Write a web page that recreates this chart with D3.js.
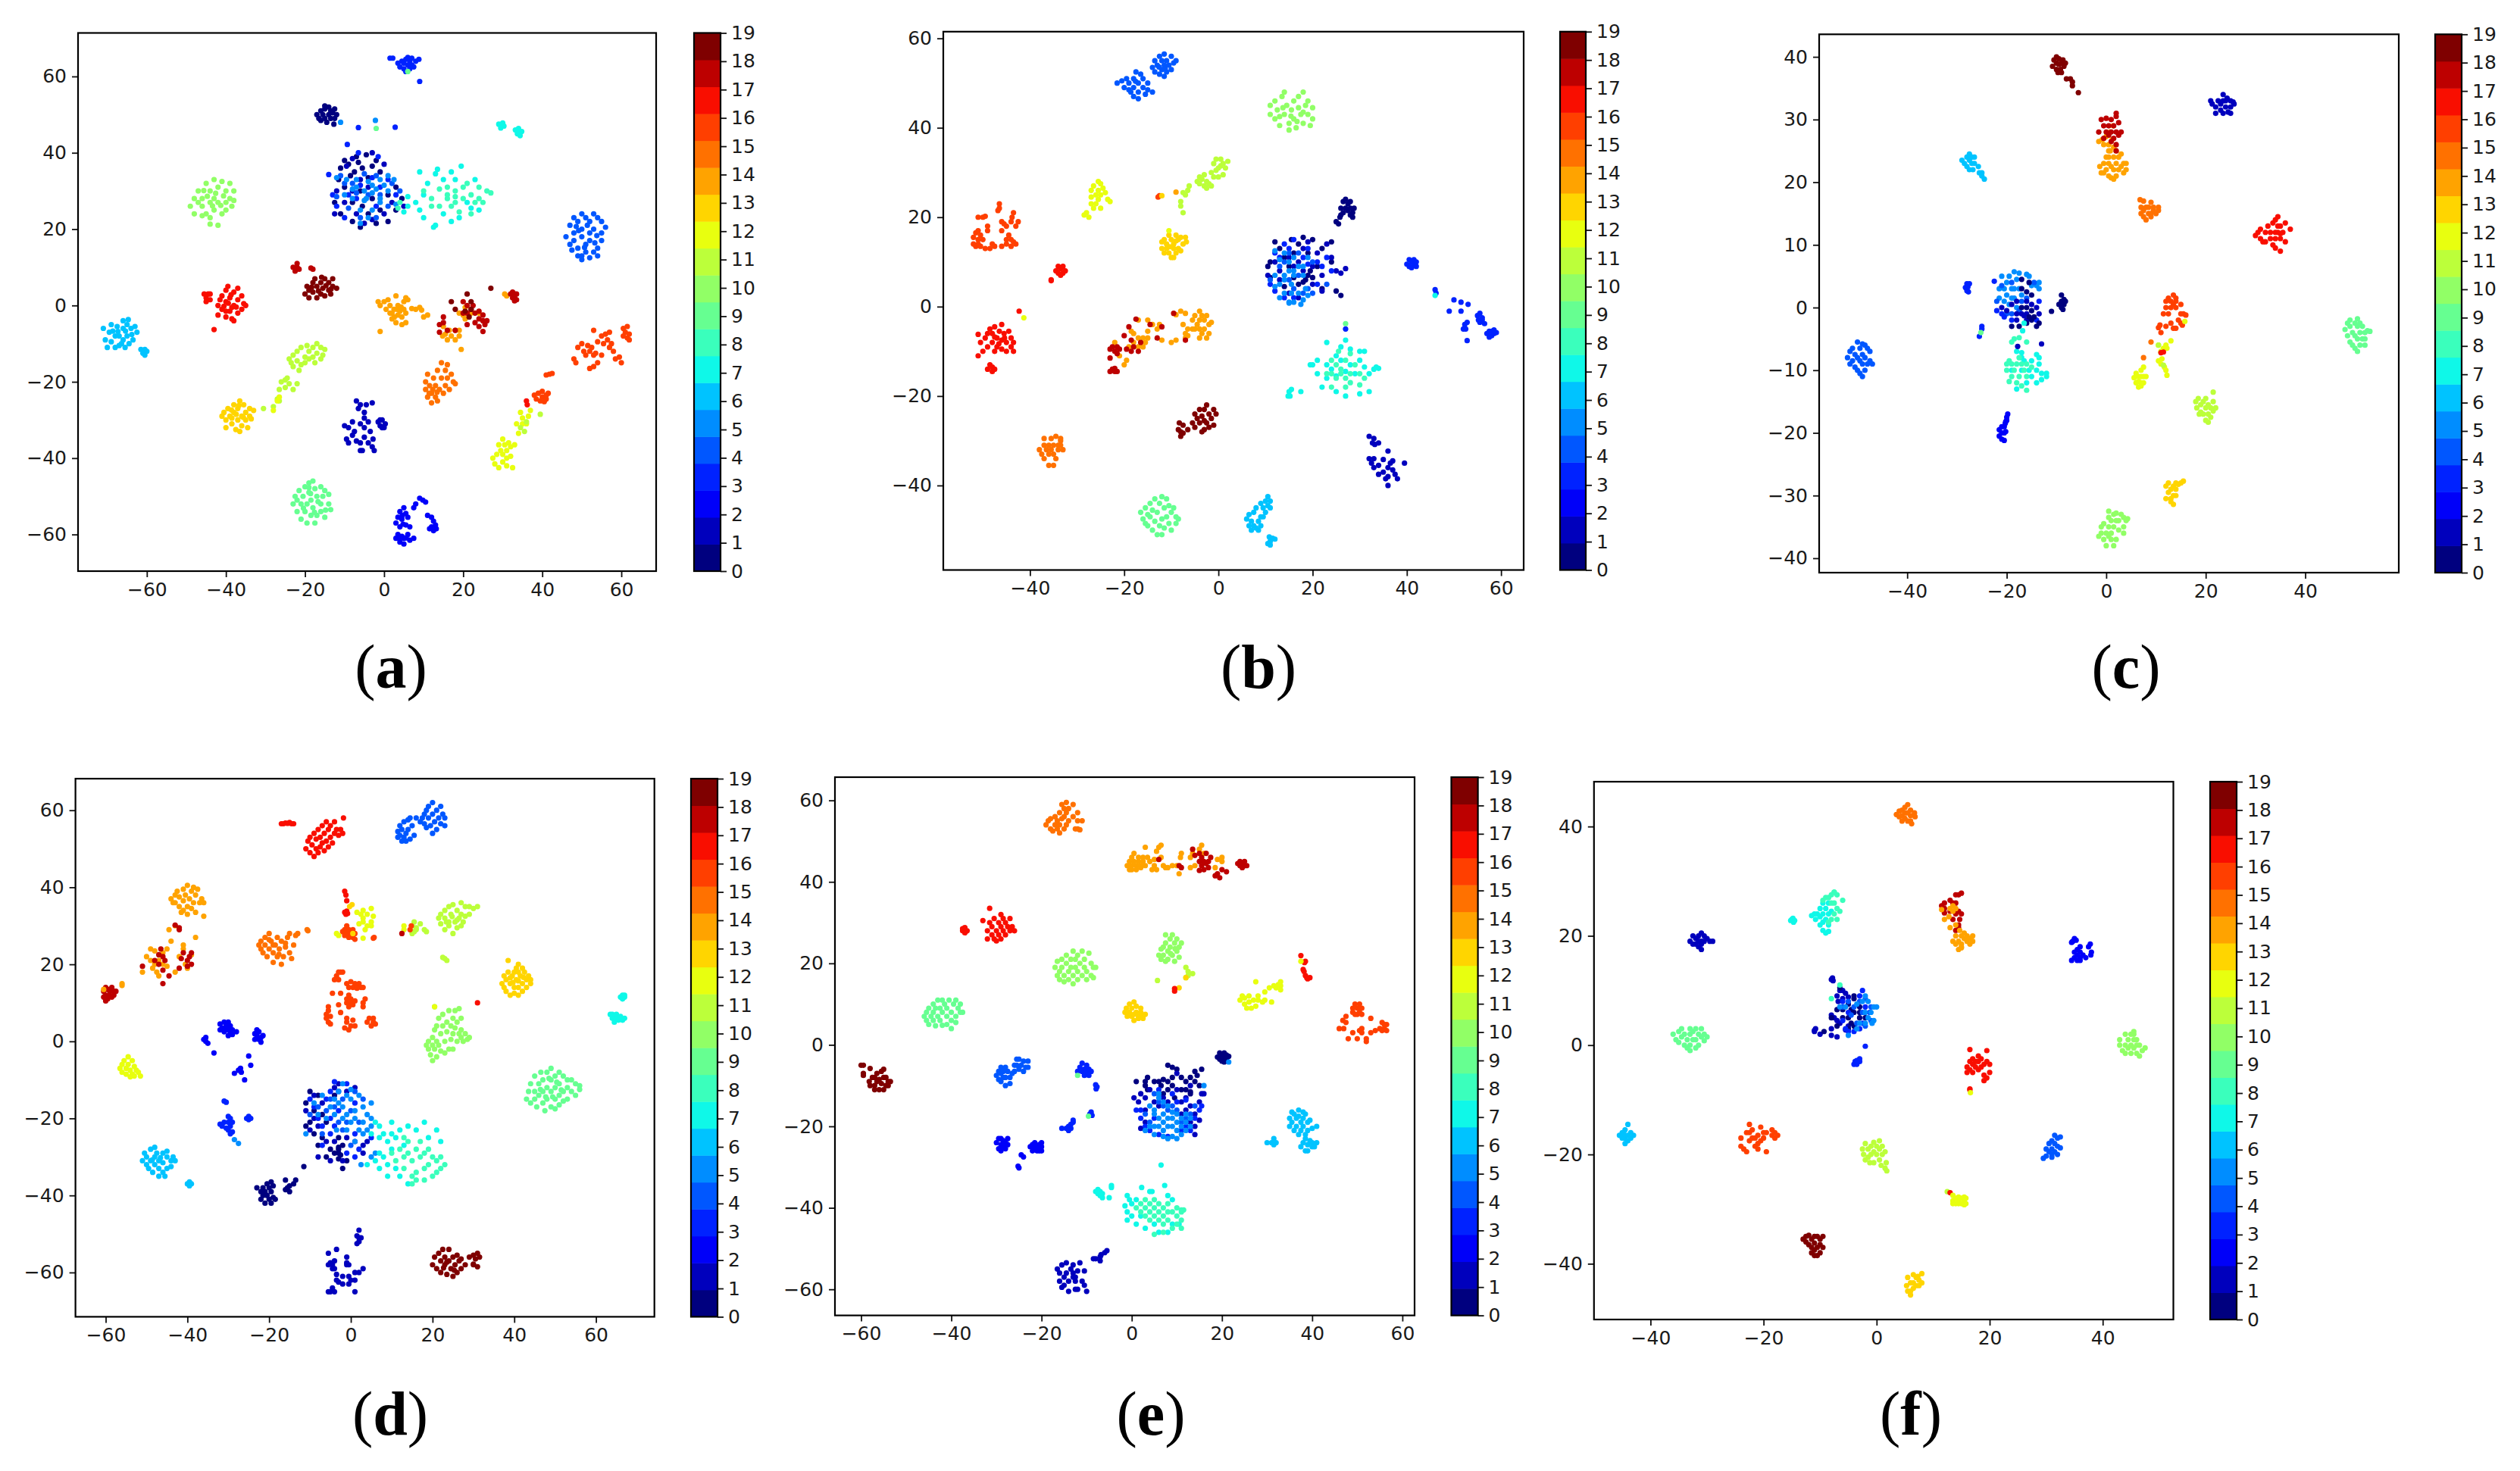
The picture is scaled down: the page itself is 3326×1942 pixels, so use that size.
<!DOCTYPE html>
<html><head><meta charset="utf-8">
<script src="https://cdn.jsdelivr.net/npm/d3@7"></script>
<style>html,body{margin:0;padding:0;background:#fff}svg{display:block}</style>
</head><body><svg id="c" width="3326" height="1942"></svg>
<script>
const jetLevels = ["#00007f","#0000bd","#0000f9","#0022ff","#0057ff","#008dff","#00c3ff","#0ff8e8","#3affbc","#66ff91","#91ff66","#bcff3a","#e8ff0f","#ffd500","#ffa300","#ff7100","#ff3f00","#f90e00","#bd0000","#7f0000"];
const colorbarTicks = d3.range(0,20);
const panelNames = ["a","b","c","d","e","f"];
const ticksX = [[-60,-40,-20,0,20,40,60],[-40,-20,0,20,40,60],[-40,-20,0,20,40],[-60,-40,-20,0,20,40,60],[-60,-40,-20,0,20,40,60],[-40,-20,0,20,40]];
const ticksY = [[-60,-40,-20,0,20,40,60],[-40,-20,0,20,40,60],[-40,-30,-20,-10,0,10,20,30,40],[-60,-40,-20,0,20,40,60],[-60,-40,-20,0,20,40,60],[-40,-20,0,20,40]];
const domainsX = [[-77.4,68.8],[-58.4,64.8],[-57.7,58.8],[-67.4,74.3],[-65.8,62.7],[-50,52.5]];
const domainsY = [[-69.6,71.4],[-58.9,61.5],[-42.3,43.6],[-71.5,68.2],[-66.4,65.7],[-50.2,48.2]];

const scatterA = [
[3,[1.5,64.8,2.2,64.8,3.5,63.5,4,62.5,4.5,64,5,62,5,63.5,5.5,61.3,5.5,64.5,6,63,6,65,6.5,62,6.5,64,7,63,7,64.8,7.5,62.5,8,64,8.8,64.5,9,58.7]],
[9,[6,61.3,-2,46.4]],
[0,[-17,50,-16.5,49,-16,51,-16,48.5,-15.5,50,-15,49,-15,51.5,-14.5,48,-14,50,-14,52,-13.5,49,-13.5,51,-13,50.5,-12.7,47.5,-12.5,49,-12.5,51.5,-12,50,-15,52.3]],
[5,[-11,48,-2.2,48.5]],[3,[-6.5,46.6,2.8,46.7,-9.3,42.2]],
[7,[29,47.5,29.5,46.5,30,47.8,30.3,47,29.5,47.2,33.2,46,33.7,45,34,46.4,34.4,44.5,34.8,45.6,34,45.6]],
[0,[-11,36,-11.5,33,-10,38,-8.5,34,-7,39,-7.5,35,-5.5,36,-4.5,39.5,-4,33.5,-2,38,-1,35,-10,31,-12.5,27,-11,24,-8,22,-6,20.5,-4,24,-2,21.5,1,22,3,25,4.5,28,3,31,1,29,-6,30,-3,28,-8,27,-5.5,26,-1,25,-9,37,-3,36.5,-6.5,37.5]],
[1,[-9.5,36.5,-8,38.5,-6,33,-3,40,0,37,-12,30,-10,27,-7,24,-3,22.5,0,24,2,27,5,26,-8,30,-4,31,-12.5,24,-5,21.5]],
[3,[-14,34.3,-6.5,40,-1.5,39,-13,29,-12,26,-9,29,-6,31.5,-3,33.5,1,33,3,29,-1,31,-10,23,-7,28,-2,26]],
[4,[-11,34,-8,32,-5,34.5,-2,34,2,32,4,30,-12,28.5,-9,25.5,-6,23,-2,23,1,26,-4,29,-1,29,-7,29.5,-10,32]],
[5,[-12,33.5,-9.5,33,-7,31,-5,30,-3,31.5,-1,33,1,34,-10,29,-8,28,-5,27.5,-3,29.5,-1,28,1,30,3,26.5,-6,25,-3,25,-1,27,-4,32.5,-7,33,-2,30.5,0,31.5,-4,23,-6,21.5,2.5,33,-4.5,28,-8,30.5]],
[7,[9,35,11,32,13,34.5,13.5,35.7,15,33,17,35,10,29,8,27,9,25,10,23,13,21,12.5,20.5,15,24,17,22,19,23,22,25.5,24,25,21,27,18,33,23,33,19.5,36.5,6,26,5,24.5,6,28.5]],
[8,[10,30,12,28,14,26,16,28,18,30,20,28,22,29,24,31,26,30,27,29.5,25,27,23,27,16,31,18,27,20,31,17,26,19,24.5,14,30.5,12,26,21,32,24,28,22,24,16,29,18,28.5,3.5,25.5,4,27]],
[10,[-48,28,-49,26,-48,24,-47,30,-46,26,-46,28,-45,32,-45,24,-44,27,-44,30,-44,23,-43,33,-43,28,-43,25,-42,31,-42,21,-42,27,-41,32.5,-41,24,-40,30,-40,27,-40,25,-39,28,-39,32,-38.5,26,-38,27.5,-38,30,-44,21.3,-46,23.5,-47,27,-44.7,28.6,-42.6,29.4,-41.3,26.2,-45.6,30.1,-43.4,26.1,-40.6,28.7]],
[4,[46,18,47,21,47,16,48,23,48,19,48,17,49,13,49,22,49,15,50,24,50,20,50,18,50,13,50,12,51,23,51,16,51,14,52,22,52,19,52,17,52,12.5,53,24,53,20,53,14,54,23,54,15,55,22,55,19,55,17,54,13,56,20.5,47.5,14.5,51.4,21,49.2,19.6,53.3,16.4,50.7,15.2,53.8,18.3,48.6,20.7]],
[19,[-20,3,-19.5,5,-19,2,-19,4,-18,6,-18,3.5,-17.5,7,-17,2,-17,5,-16,3,-16,6,-15.5,4.5,-15,7,-15,2.5,-14,4,-14,6,-13.5,3,-13,7,-13,5,-12,4.5,-18.3,4.8,-16.6,3.8,-14.7,5.2,-15.8,7.4,-13.4,4.3]],
[18,[-23,10,-22.5,9,-22,11,-22,10,-21.5,9.5,-18.5,9.8,-18,9.5]],
[17,[-45.5,3,-45,2,-44.5,3,-44,1.5,-44,3,-45,1,-43,-6.3,-38,-4,-42,-2.5,-42,0,-41.5,1.5,-41,-1,-41,2.5,-40,-3,-40,1,-40,4,-39.5,5,-39,-1.5,-39,2,-38.5,-3.5,-38,0,-38,3.5,-37,-2,-37,1.5,-37,4.5,-36,-1,-36,2.5,-35.5,0.5,-35,0,-38.5,-0.5,-40,-1.5,-39.4,0.6,-37.4,-0.4,-38.7,2.8,-40.5,-0.2]],
[6,[-71,-6,-70.5,-9,-70,-11,-69.5,-7,-69,-5,-69,-9.5,-68,-8,-68,-11,-67.5,-5.5,-67,-8,-67,-10.5,-66,-4,-66,-6,-66,-9,-65.5,-11,-65,-5,-65,-8,-64.5,-10,-64,-6,-63.5,-9,-63,-5.5,-62.5,-7,-61.5,-11.5,-61,-12.5,-60.5,-11.5,-60,-12,-60.5,-13,-67.3,-6.8,-65.4,-6.7,-63.8,-7.6,-68.6,-6.7,-66.4,-10,-64.7,-3.7]],
[11,[-24,-14,-23.5,-15,-23,-13,-23,-16,-22,-14.5,-22,-12,-21.5,-17,-21,-15.5,-21,-11,-20,-13.5,-20,-15,-19.5,-10.5,-19,-12,-19,-14,-18,-11,-18,-13.5,-17.5,-15,-17,-10,-17,-12.5,-16,-11,-16,-14,-15.5,-13,-15,-11.5,-23,-22,-25,-21.5,-26.5,-22,-26,-20,-24,-20.5,-25,-19.5,-22,-20.5,-24.5,-19,-27,-24.5,-26.5,-25,-28,-26.5,-30.5,-27]],
[13,[-41,-29,-40.5,-28,-40,-30,-40,-32,-39.5,-27,-39,-29,-38.5,-31,-38,-26,-38,-28,-37.5,-32.5,-37,-30,-37,-27,-36.5,-25,-36,-29,-36,-31.5,-35.5,-26,-35,-28,-35,-30,-34.5,-32,-34,-27,-34,-29,-33,-27.5,-36.5,-33,-38.5,-29.5,-37.4,-28.5,-35.6,-29.3,-38.6,-27.4,-36.7,-26.2,-33.6,-29.7]],
[12,[-27,-25,-28,-27.5,-26.5,-24]],
[1,[-7,-25,-6.5,-27,-6,-26,-5,-28,-4.5,-26,-3,-25.5,-10,-31.5,-9,-32,-8,-30.5,-7.5,-33,-6,-31,-5,-32,-5,-29.5,-4,-30.5,-3.5,-33,-9,-36,-9.5,-35,-8,-34,-7,-35.5,-6,-36,-5.5,-38,-5,-34.5,-4,-36,-3,-37,-2.5,-38,-2.8,-35,-1.5,-30.5,-1,-31.5,-0.5,-30,0,-32,0.3,-31,-0.5,-32,-1,-30,-6,-38]],
[2,[9,-50.5,9.8,-51,10.5,-51.5,8,-52,7.5,-53,4,-54,5,-53,5.5,-54.5,3.5,-55.5,4.5,-56,6,-55.5,3,-57,4,-58,5.5,-57.5,6.5,-58,3.5,-60,3,-61,4,-62,5,-61,5,-62.5,6,-60,6.5,-61.5,7.5,-61,4.5,-60.5,11,-55,12,-55.5,12.5,-56.5,12,-58,12.5,-59,13,-57.5,13.2,-58.5,11.5,-58.5,4.8,-57.3,5.6,-60.9,3.8,-61,4.6,-55]],
[9,[-23,-52,-22.5,-50,-22,-54,-22,-51,-21.5,-48.5,-21,-52,-21,-56,-20.5,-50,-20,-47.5,-20,-54,-19.5,-52,-19.5,-57,-19,-49,-19,-46.5,-18.5,-51,-18.5,-55,-18,-46,-18,-53,-17.5,-48,-17.5,-57,-17,-50,-17,-55,-16,-47.5,-16,-52,-16,-54,-15.5,-50,-15,-55.5,-15,-48.5,-14,-52,-14,-49.5,-13.5,-53.5,-20.4,-53.1,-18.6,-49.3,-16.7,-51.4,-19,-47.7,-17.6,-54.2,-14.8,-53.6]],
[12,[27.5,-40,28,-41.5,28.5,-39,29,-36.5,29,-42.5,29.5,-38,30,-35,30,-39,30,-41,30.5,-36.5,31,-38,31,-42,31,-40,31.5,-36,32,-37,32,-39.5,32.5,-42.5,33,-36.5,34,-33.5,35,-31,35,-29.5,36,-31,36.5,-29,33.5,-31,34.5,-28,37,-27.5]],
[11,[34.5,-32,35.5,-33,36,-30.5,39.5,-28.5]],
[16,[38,-23.5,38.5,-24.5,39,-23,39.5,-25,40,-22.5,40,-24,40.5,-25.2,41,-23.5,41,-24.5,41.5,-23,41.8,-18,41,-18.2,42.5,-17.8]],
[17,[36,-25,36.2,-26]],
[15,[10.5,-20,10.5,-22,11,-18,11,-24,11.5,-21,12,-25.5,12,-23,12.5,-19,13,-21,13,-24,13.5,-17,13.5,-25,14,-22,14.5,-19,14.5,-15,15,-23,15.5,-17,15.5,-21,16,-19,16,-15.5,16.5,-22,17,-18,17.5,-20,18,-20.5,12.3,-22,11.4,-23,13.4,-22.7]],
[16,[48,-14,48.5,-15,49,-11,50,-10,50.5,-12,51,-13,51.5,-10.5,52,-12,52.5,-11,53,-13,53,-6.5,53.5,-12.5,52,-16.5,53,-16,54,-15,55,-13,55,-8,55.5,-10,56,-7.5,56.5,-9,57,-11,57,-7,57.5,-10,58,-12,58.5,-14,59.5,-13.5,60,-15,60.5,-6,61,-7,61.5,-5.5,61.5,-8.5,62,-7.5,62,-9,60.5,-8,54,-9.5]],
[14,[-1.5,1,-1,0,0,1,0.5,-1,1,1.5,1.5,-2,1.5,0,2,-3.5,2.5,-1,3,2.5,3,-4.5,3.5,-2.5,3.5,0,4,-1.5,4.5,-3,4.5,-5,5,-1,5,1,5.5,-4.5,5.5,-2,5.5,2,6,1.5,-1,-6.8,7,-0.8,8,-1,9,-0.5,9.5,-1.2,10,-3,11,-2.5,15,-5.5,15.5,-7.5,16,-9,16.5,-6.5,17,-8,18,-6.5,18,-9,19,-6.5,19,-8,14.8,-8,19.5,-11.5,20,-2.5,20.5,-0.5,22,-2,19,-2,20.5,-3.5,24,-2,31,2.5,30.5,3,2.6,-3,3.3,-1,4.3,-0.4,2,-2]],
[18,[20,-2,21,0,22,-1,21,-2,22.5,0,23,-2,20,1,23,-4.5,24,-3.5,25,-4,25.5,-5,26,-4,15,-3,15,-4.5,14,-5,14,-7,16,-6.5,18,-6.5,24,-1.5,25,-2.5,24,-5.5,21,-5,32,3,32.5,2,33,3,33,2,33.5,1.5,33.5,3,32.5,3.5,25,-6.8,33,1.2]],
[19,[21,3,22,-1,20.5,-1.5,21.5,-3,22,1,17,1,27,4.5,18,-1]]
];
const scatterB = [
[4,[-14,53.5,-13.5,55,-13.5,52.5,-13,54,-12.5,56,-12.5,52,-12,55,-12,53,-11.5,56.5,-11.5,54,-11.5,51.5,-11,55,-11,52.5,-10.5,54,-10,56,-10,53,-9.5,54.5,-9,55,-21.5,50,-20.5,50.5,-20,49,-19.5,51,-19,48.5,-19,50,-18,47,-18,49,-18,51,-17.5,52.5,-17,50,-17,48,-17,46.5,-16.5,52,-16,49,-16,51,-15.5,47.5,-15,50,-15,48.5,-14,48,-12.6,53.6,-11.3,53.3,-17.6,50.4,-18.6,48]],
[10,[11,45,11,43,12,46,12,42,12.5,44,13,40.5,13.5,47,14,48,14,43,14.5,45,15,41,15,39.5,15.5,44,16,46,16,42,16.5,40,17,44.5,17,47,17.5,43,18,48,18,41,18.5,45,19,43,19,46,19.5,40.5,20,42,20,44.5,13,42.5,18,43.5,15.4,42.6,16.7,41.4,13.7,44.5]],
[11,[-1.5,30,-1,32,-0.5,30.5,-0.5,33,0,31,0,29,0.5,33,0.5,31.5,1,29.5,1,32,1.5,31,2,32.5,-4.5,28,-4,29,-4,27.5,-3.5,28.5,-3,27,-3,29.5,-2.5,28,-2.5,26.5,-2,27.5,-1.5,27,-6.5,26,-7,25,-7.5,25.5,-8,23.5,-8,22.5,-7.5,21,-6.2,27,-1,29]],
[14,[-9,25.6]],[16,[-12.8,24.5,-12.5,24.8]],[13,[-12,24.8]],
[12,[-28.5,20.5,-28,21,-27.5,20,-27,23,-27,24.5,-27,26,-26.5,22,-26.5,27,-26,25,-25.5,28,-25.5,26,-25.5,24,-25,27.5,-25,25,-25,22,-24.5,26.5,-24,25.5,-23,23.5,-23.5,24,-26,23]],
[16,[-52,14,-52,15.5,-51.5,16.5,-51.5,13.5,-51,15,-51,17,-51,14,-50.5,16,-50.5,13.5,-50,15,-51,20,-50,20,-49.5,20.2,-49.5,13,-48.5,13,-48,14,-47.5,13.5,-49,17,-49,18,-46.5,23,-46.5,22,-46.8,21.5,-46,17,-46,19,-45.5,18.5,-45,15,-45,18,-45,14,-44.5,16,-44,15,-44,13.5,-43.5,14.5,-43,14,-44,19,-43,18,-43.5,21,-43.8,20,-42.5,19,-46,13.5]],
[17,[-34.5,8,-34,7.5,-34,9,-33.5,8.5,-33,9,-33,7.5,-33.5,7,-32.5,8,-35.5,6,-35.5,5.8]],
[13,[-12,13,-11.5,15,-11.5,12,-11,14,-11,13,-10.5,16,-10.5,12,-10,15,-10,11,-9.5,13,-9.5,14,-9,16,-9,12,-8.5,15,-8.5,13,-8,15.5,-8,12.5,-7.5,14,-7,15.5,-6.8,14.5,-9.5,11,-12,14.5,-10.4,13.4,-9,14.7]],
[12,[-10.5,17]],
[0,[25.5,18.5,25,19,25.8,20,26,20.5,26,22,26.5,23.5,26.5,21,27,22,27,24,27.5,21.5,27.5,23,28,22,28,23.5,28.5,21,28.5,20,28,20.5,28.8,22]],
[0,[11,10,10.5,9,12,14.5,13,13,14,11,15,9,15.5,15,16,12,17,14,18,15.5,19,12,20,15,22,13,24,14.5,21,9,19,7,17,5,18.5,6,20,6.5,19.5,8,22,4,25,3.5,26,2.5,24,10,11,6.5,14,4.5,16,6.5,18,5.5]],
[1,[12,10,13,8,15,11,17,10,18,13,19,14.5,21,12,23,14,24,11,25,8,27,8.5,26,7.5,22,7,20,5,20,9,18,8,16,9,13,6,15,3,17,2,22,3.5,10.5,7]],
[3,[12,12,14,14,16,15,19,13,21,10,23,11,24,8,21,5,22,9,15,13,13,11,11,5,16,2,14,2,18,11,12,3.5,19,9.5]],
[4,[11,6,13,9,14,10,15,6,16,4,17,7,19,4,20,10,18,3,17,12,15,12,23,5,20,3]],
[5,[12,7,13,5,14,7,15,8,15.5,5,16,7,17,9,17,3,16,1,15.5,3,14,3,14,6,13,2,12,4.5,15,1,18,1.5,18.5,4,19,11,18,9,16,11,14,12,13,10.5,12,12.5,15,10,16,8,18,7,17.5,0.5,15,0.8,19,2.5]],
[3,[40,9.5,40.5,10.5,40.5,9,41,10,41,8.7,41.5,10.5,41.5,9.5,42,9,42,10,46,3.8,46.2,3,50,1.5,51.5,1,53,0.5,49,-1,51.5,-1,55,-2,55.2,-3,55.5,-1.5,56,-2.5,55.5,-3.5,56,-3,56.5,-3.8,52.3,-4,52.8,-3.5,52.5,-5,52,-5,52.8,-7.6,57,-6,57.5,-5.5,58,-6.5,58,-5.5,58.5,-6,57.5,-6.8,59,-5.8,58.5,-5.2]],
[7,[46,2.5]],
[9,[27,-3.8]],[3,[27,-5]],
[7,[27,-7.5,23,-8,26,-9,28,-9.5,25,-11,30,-10,31,-10,21,-12,23,-13,19.5,-13,20,-13,24,-14,26,-12,28,-13,30,-12,31,-13.5,33,-14,34,-13.8,33.5,-13.5,21,-15,23,-16,25,-15.5,27,-14.5,29,-15,32,-15,22,-18,25,-19,27,-20,30,-19.5,32,-19,15,-19,15.2,-20,14.8,-20,15.5,-18.5,17.5,-19]],
[8,[24,-12,25,-13,26,-14,27,-12,28,-15,29,-13,24,-15,25,-16,26,-15,27,-16,28,-17,23,-15,30,-15,31,-16,24,-18,27,-18,30,-17.5,28,-10.5,25.5,-10]],
[17,[-51,-6.2,-50,-10,-50.5,-8,-49,-9,-49.5,-7,-49,-6,-48.5,-5,-48,-8,-48,-6,-47.5,-10,-47.5,-4.5,-47,-7,-47,-9,-46.5,-5.5,-46,-4,-46,-7.5,-46,-9.5,-45.5,-6,-45,-8,-45,-10,-44.5,-5.5,-44,-7,-44,-9,-43.5,-8,-43.5,-10,-51,-11,-48.5,-13,-48,-14.5,-48,-13.5,-49,-14,-47.5,-14,-42.3,-1,-47.5,-6.8,-46.6,-8.3,-45.4,-7]],
[12,[-41.3,-2.5]],
[14,[-22,-8,-21,-11,-20,-13,-19.5,-12,-17,-3,-18.5,-5.5,-15,-5.5,-15,-3,-14,-4,-13,-5,-12.5,-4,-12,-7.5,-10,-8,-9,-7.5,-9,-1.8,-8,-1,-7,-1.5,-7.5,-4,-7,-6,-7,-7,-6.5,-5,-6.5,-6.5,-5.5,-5,-19,-9,-18,-8,-18,-6,-17,-9,-17,-7,-16,-7,-16,-9,-15.5,-8,-15,-7,-5.5,-3,-5,-5,-5,-2,-4.5,-4,-4,-1,-4,-3,-4,-5,-4,-7,-3.5,-2,-3.5,-6,-3,-3,-3,-5,-2.5,-2,-2.5,-7,-2,-4,-2,-6,-1.5,-3.5]],
[18,[-23,-9.5,-22.5,-9,-22,-10,-21.5,-9,-21,-9.5,-21.5,-10.5,-23,-11.5,-23,-14.5,-22.5,-14,-22,-14.5,-22,-13.8,-21.5,-14.5,-20,-6.5,-19.5,-9.5,-19,-4.5,-18.5,-10,-18,-9,-17,-10,-17.5,-2.8,-13,-7,-14.5,-4,-12,-4.5,-9.5,-1.5,-18.5,-7.5,-16.5,-8,-7,-7.5]],
[19,[-5.5,-26,-5,-24,-5,-27,-4.5,-25,-4,-23,-4,-26,-3.5,-28,-3.5,-24.5,-3,-25.5,-3,-27.5,-3,-23,-2.5,-22,-2.5,-26,-2,-24,-2,-27,-1.5,-25,-1,-23,-1,-26.5,-0.5,-24,-8.3,-26,-8.5,-27.5,-8,-28,-8,-29,-7.5,-28.3,-6.5,-27.5,-7.5,-26.5]],
[15,[-38,-32,-37.5,-33,-37,-31,-37,-34,-37,-29.5,-36.5,-32,-36,-33,-36,-31,-36,-35.5,-35.5,-32,-35.5,-29.5,-35,-33,-35,-31,-35,-35.5,-34.5,-29,-34.5,-34,-34,-32,-33.5,-30,-33.5,-31,-33,-32,-34,-31,-33.5,-29.5]],
[9,[-16.5,-46,-16,-47.5,-15.5,-45,-15.5,-48.5,-15,-46.5,-15,-49,-14.5,-44,-14.5,-47,-14,-50,-14,-45.5,-13.5,-48,-13.5,-43,-13,-51,-13,-46,-12.5,-49,-12.5,-44,-12,-47.5,-12,-42.5,-12,-51,-11.5,-45,-11.5,-49.5,-11,-47,-11,-43,-10.5,-44.5,-10.5,-48.5,-10,-46,-10,-50,-9.5,-45,-9,-47,-8.5,-47.5,-9,-48.5]],
[6,[6,-47.5,6.5,-46.5,6.5,-49,7,-48,7,-50,7.5,-46,7.5,-49,8,-45,8,-49.5,8.5,-48,8.5,-50,9,-44,9,-47,9,-49,9.5,-45,9.5,-47,10,-43.5,10,-46,10.5,-44.5,10.5,-42.5,11,-45,11,-43.5,11,-52.5,11.2,-52,10.5,-53,11,-53.3,11.5,-51.8,10.8,-51.5,12,-52]],
[1,[32,-29,33,-29.5,32.7,-30.5,33.2,-30.8,34,-30.5,36,-32.3,32,-34,32.5,-35,33,-34,33,-36,34,-35.5,34,-37.5,35,-34.2,35,-37,35.5,-38.5,36,-36,36.5,-35,36,-38,37,-34.5,37,-36.5,37.5,-37.5,38,-38.5,39.5,-35,36,-40]]
];
const scatterC = [
[19,[-10.8,38.5,-10.5,39.5,-10,38,-10,39,-10,40,-9.7,37.5,-9.5,38.8,-9.5,39.7,-9.2,38,-9,39,-9,37.5,-8.7,39.5,-8.5,38.5,-8.2,39,-8,36.5,-7.2,36.5,-6.8,36,-6.8,35.4,-5.6,34.3]],
[1,[21,33,21.3,32.5,22,32,22,31,22.5,33,23,31.5,23,32.5,23.5,34,23.5,31,24,33,24,32,24.5,31.2,25,33,25,32,25,31,25.5,32.8,25.7,32.5,24.3,33.4,23.5,33]],
[14,[-1.5,26.5,-0.8,26.8,-0.5,26,0,27.3,0.5,26,0.8,25,1.2,26.8,1.5,25.6,0.8,28,1.4,29,-1.3,22.5,-1,21.5,-0.5,23,-0.5,21.5,0,24,0,22,0.5,25,0.5,23,0.5,21,1,22.5,1,20.7,1.5,24,1.5,22,2,25,2,23,2,21,2.5,24,2.5,22,3,24.5,3,22.5,3.5,23,3.5,21.5,4,23,4,22,0.5,24,1.5,20.5]],
[18,[-1.5,28,-1,30,-0.5,29,-0.5,27,0,30.2,0,28,0.5,29,0.5,27.5,1,30,1,28,1,26.5,1.5,29,1.5,27,2,30.5,2,28,2,26,2.5,29.5,2.5,27.5,3,28,2,31,2,25]],
[6,[-29,23.5,-28.5,23,-28,24,-28,22.5,-27.5,24.5,-27.5,23.5,-27.5,22,-27,24,-27,23,-26.5,23,-26.8,22,-25.7,22.5,-25.5,21.5,-25,21.5,-25,21,-24.5,20.5,-26.5,24]],
[15,[6.8,17.2,7,16,7,15,7.5,17,7.5,14.5,7.5,15.5,8,16,8,14,8.5,16,8.5,15,9,16.8,9,15,9,14.5,9.5,15.5,9.5,16,10,15,10.5,16,10.5,15.5]],
[17,[30,11.5,30.5,12,31,11,31,12.5,31.5,10.5,32,12,32,10.5,32.5,13,33,11,33,12,33.5,13.5,33.5,10,34,12,34,14,34,11,34,9.5,34.5,14.5,34.5,13,34.5,12,35,11,35,9,35,13,35.5,12,36,10.5,36,13.5,37,12.5,35,11.8]],
[16,[10.5,-3.2,10.8,-2.8,11,-4,12,-3,13,-2.5,13.5,-3.3,14,-3.3,14.5,-2,15,-2.5,11.5,-1,12.5,-1,12,0,12,1,12.5,1.5,13,0,13,1,13.5,2,13.5,0.5,14,1.5,14,0,14,1,15,0.5,15,-1,15.5,-1,16,-1.2,15.3,-2.8]],
[12,[15.8,-2.2]],
[9,[48,-3.5,48.5,-2.5,48.5,-4.5,49,-5.5,49,-3,49,-2,49.5,-4,49.5,-6,50,-2.5,50,-4.5,50,-6.5,50.5,-3,50.5,-5,50.5,-1.8,50.5,-7,51,-4,51,-6,51,-2.5,51.5,-3,51.5,-5,52,-4,52,-6,52,-5,52.5,-3.7,53,-3.8]],
[3,[-28.3,3.2,-28,3.8,-28,2.7,-27.8,3.3,-27.5,3.8,-27.7,2.5,-25,-3,-25,-3.4,-25.5,-4.6]],
[9,[-25.2,-4]],
[0,[-9,1,-9,2,-8.5,1.3,-8.5,0.5,-9.5,0.5,-8.7,-0.3,-9,0,-8.2,1,-11,-0.6]],
[5,[-21.5,3,-21.5,1.5,-21,5,-20.5,3,-20.5,1,-20,4,-20,2,-19.5,5,-19.5,0.5,-19,3,-18.5,5.7,-18.5,1.5,-18,4.5,-18,0,-17.5,3,-17,2,-16,5.3,-15.5,5,-15,3.5,-14,3.5,-13.5,4,-13.5,3,-19,1.5,-17.5,5.5,-18.5,3]],
[4,[-22,1,-21,3.5,-19,4,-19,-1,-17,1,-16,1.5,-14.5,4,-20,-1,-17.5,-0.5]],
[3,[-22.5,4.2,-21,-1,-22,-0.5,-20.5,-1.5,-19,-2,-13.5,1,-14,-2]],
[1,[-21,0,-20,-0.5,-19,0.5,-18,-2,-17,-1,-16,-2,-16,1,-15,0.5,-14,0,-13.5,-1,-18,-1,-16,-1,-16.5,-1.3,-18,1]],
[0,[-19,-3,-17,3,-16,2.5,-16,0,-15.5,4,-15,-0.5,-15,2,-14.5,-1.5,-14,-3,-17,0,-17.5,-3,-16,-2.5,-15,-2,-13.5,-2.5,-17,4.5,-15.5,-1.5]],
[7,[-16.5,-2.5,-16.8,-3.7,-17,-7.2,-18,-7,-19,-10,-17,-8,-15,-8.5,-14,-7.5,-13.5,-8,-15.5,-10,-14,-10,-13,-10.5,-12,-11,-13,-11.5,-12,-10.5,-16,-12,-15,-11,-17,-10,-16.5,-8.5,-14,-12,-13.5,-9,-18,-13]],
[8,[-19,-5.5,-18.5,-5,-17.5,-4.8,-16,-5.5,-20,-9,-19.5,-8.5,-19,-9,-19,-11,-18.5,-10,-18,-9,-18,-12,-17.5,-8,-17.5,-11,-17,-9,-17,-12.5,-16.5,-10,-16,-11,-16,-13.2,-16,-9,-15,-9.5,-20,-10,-19.5,-11.8]],
[1,[-13,-5.8,-17.8,-6.2]],
[4,[-52,-8,-51.5,-7,-51.5,-9,-51,-8.5,-51,-6.5,-50.5,-9.5,-50.5,-7.5,-50,-5.5,-50,-8,-50,-10,-49.5,-6.5,-49.5,-8.5,-49.5,-10.5,-49,-5.8,-49,-7.5,-49,-9,-49,-11,-48.5,-6,-48.5,-8,-48.5,-10,-48,-6.5,-48,-9,-47.5,-7,-47.5,-8.5,-47,-9]],
[2,[-21.5,-20.5,-21.5,-19.5,-21,-20,-21,-19,-21,-21,-20.5,-20,-20.5,-21.2,-20.2,-19.8,-20.5,-19,-20.2,-18.2,-20,-18,-20.3,-18.5,-20,-17.5,-19.8,-17]],
[12,[5.6,-11.2,6,-10.5,6,-12,6.5,-11,6.5,-11.8,6.5,-12.7,7,-10,7,-11,7,-12,7,-12.5,7.5,-9.5,7.5,-11,7.5,-12,8,-11,10.5,-6,11,-7,11.5,-6.5,12,-6,12.2,-6.5,13,-5.3,10.5,-8.5,11,-9,11.2,-8.2,11.7,-9.5,12,-10,12.2,-10.8]],
[11,[10.5,-6,11,-7.2,11.5,-9.2]],
[15,[9,-5.5,7.5,-8]],
[17,[11,-7.2,11.5,-7.1]],
[11,[18,-15,18.2,-16,18.5,-14.5,18.7,-17,19,-15.5,19,-16.7,19.5,-15,19.5,-17,20,-14.5,20,-16,20,-18,20.5,-15.5,20.5,-17,21,-16,21,-17.5,21.5,-15,21.5,-16.5,22,-16,21.5,-13.5,20.5,-18.3]],
[13,[12,-28.5,12.5,-28,12.5,-29.5,13,-29,13,-30.5,13,-31,13.5,-28.5,13.5,-30,13.5,-31.4,14,-28,14,-29,14,-30,14.5,-28.2,15,-28,15.5,-27.7,12,-30.5]],
[10,[-1.5,-36.5,-1,-36,-1,-35,-0.5,-37,-0.5,-34.5,0,-36,0,-38,0.5,-36.5,0.5,-33.5,0.5,-35,0.5,-32.5,1,-34,1,-37,1,-36,1.5,-35,1.5,-38,1.5,-33,2,-37,2,-34,2,-32.8,2.5,-35.5,2.5,-34,3,-33,3.5,-35,3.5,-33.5,4,-34,4.3,-33.7,3.5,-36]]
];
const scatterD = [
[17,[-11,50,-10.5,52,-10,49,-10,53,-9.5,51,-9,48,-9,54,-8.5,50,-8.5,52.5,-8,49,-8,55,-7.5,53,-7.5,50.5,-7,51.5,-7,56,-6.5,49.5,-6.5,54,-6,52,-6,57,-5.5,50.5,-5.5,55,-5,53,-5,56,-4.5,51.5,-4,54,-4,57,-3.5,55,-3,53.5,-2.5,55,-1.8,58,-2,54,-17,56.5,-16.5,56.5,-16,56.7,-15.5,56.6,-15,56.8,-14.5,56.5,-14,56.5]],
[4,[11.5,53,11.5,54.5,12,56,12,53.5,12.5,52,12.5,55,13,57,13,53,13.5,54,13.5,52,14,57.5,14,55,14.5,52.5,14.5,58,15,56,15.5,53.5,16,58,17,57,17.5,58,18,59,18,56.5,18.5,60,18.5,55.5,19,58,19,61,19.5,56,20,59,20,54,20,62,20.5,57,21,60,21,55,21.5,58,22,61,22,56.5,22.5,59,23,58,23,56]],
[14,[-44,37,-43.5,36,-43,38,-43,36,-42.5,39,-42,35,-42,37.5,-41.5,33.5,-41,39.5,-41,36.5,-41,34,-40.5,38,-40,40.5,-40,35,-40,33,-39.5,37,-39,39,-39,34.5,-38.5,36,-38.5,40,-38,38,-38,33.5,-37.5,39.5,-37,36,-36.5,37,-36,32.5,-38,27,-36,36]],
[14,[-44.5,29,-43,30,-50,22,-49,24,-49,21,-48.5,19,-48,23.5,-48,20,-47.5,18,-47,21,-47,17,-46,23,-46,20,-45,19.5,-45,24,-44,26,-43,18,-42,22,-41,24,-40.5,20,-39,22.5,-40,19,-51,18,-41,25]],
[18,[-42,29.5,-43,30.2,-48,21,-47,22.5,-47,20,-46.5,24,-46,22,-46,18.5,-45.5,21,-44.5,17,-42,19,-41.5,21.5,-41,23,-40,21,-40,19.5,-39.5,22,-39,20,-39,23,-51,19.5,-46,15,-42,29]],
[18,[-60.5,13,-60.5,11.5,-60,14,-60,12,-59.5,13.5,-59.5,11,-59,13,-59,12,-58.5,14,-58.5,11.5,-58,13,-58,12,-60,10.5,-57.5,13]],
[14,[-56,14.5,-56,15,-60.5,13.5]],
[15,[-22.5,25,-22,24,-22,26,-21.5,23,-21,27,-21,25,-20.5,22,-20,24,-20,28,-19.5,26,-19,23,-19,20.5,-18.5,25,-18,27,-18,22,-17.5,24,-17,20,-17,26,-16.5,22,-16,24.5,-15.5,27,-15,23,-15,28,-14,25,-14.5,21.5,-13.5,27.5,-13,28,-16,25.5,-10.7,29,-10.5,28.7,-19,25,-20,26.4,-17.6,22.6]],
[16,[-2,28.5,-1.5,29,-1.5,27.5,-1,30,-1,28,-0.5,29,-0.5,27,0,28,0.5,29,0.5,27,1,28,1,26.5,5.5,26.8,5.7,27]],
[17,[-1.5,39,-1.2,38,-1,36.5,-1.5,33.5,-1.2,33,-1,33.8,-0.8,33.2]],
[13,[-0.3,35,0.3,35.5,0.5,28]],
[12,[1.5,33.5,2.5,33,3,32,3,34,4,33,5,34.5,2,30.5,3,31,4,30,5,31,5.5,32.5,5,30,3.5,29,-3.5,28,-3,27.5,3,26.8,13,30,13,29]],
[11,[15,30,15.5,31,16,29,16,29.5,17,30.5,18,29,15,28,15.5,28.5,18.5,28.5,23,21.5,23.5,21,22.5,21.8]],
[16,[14.5,29,14.8,30]],[18,[12.5,28]],
[11,[21.5,32,22,33,22,30.5,23,34,23,32,23,29,24,35,24,31,24,30,24.5,33,25,28,25,35.5,25.5,31,26,34,26,29.5,26.5,32,27,36,27,33,27,30,27.5,31,28,35,28,32.5,29,35,29,33,30,34.5,31,35,26,31.5,24.8,32.4,23.4,31]],
[13,[38.5,21,37,15,37.5,17,37.5,14,38,16,38,13,38.5,18,39,15,39,12,39.5,17,40,14,40,18,40,12.5,40.5,19,40.5,16,41,14,41,20,41,12,41.5,17,42,15,42,13,42,19,42.5,18,43,16,43,14,43.5,17,44,16,44,15,39,16.5,41,18,41,15.7,39.7,15.3,42.3,16.6]],
[16,[-4.5,12.5,-5.5,9,-3,9.5,-3.5,17,-3,18,-2.5,18,-2,18,-3,16,-4,16,-2.5,12.5,-1,15,-0.5,14,0,15.5,0.5,14,1,15,1.5,14.5,2,15,2.5,14,3,14,1.5,13.8,-1,11,-1,10,-0.5,12,-0.5,9,0,11,0,10,0.5,9.5,1,10.5,3,10,3.5,11,3,9,-6,7,-5.5,8,-6,6,-5.5,5,-5,6.5,-5,4.5,-2.5,7.5,-1,6,-1.5,3.5,-1,5,-0.5,3,0,4,0.5,5.5,1,4,4,5,4.5,6,5,4,5.5,5,6,4.5,5.5,6]],
[10,[18.5,-1,19,0,19,-2,19.5,-3.5,20,1,20,-1,20,-5,20.5,3,20.5,-2,21,-4,21,4,21,0,21.5,6,21.5,-1,22,2,22,-2.5,22.5,4,22.5,7,23,0,23,-3,23.5,2.5,23.5,5,24,8,24,-2,24.5,4,24.5,0.5,25,6,25,2,25,-2,25.5,8,25.5,3.5,26,5,26,0,26.5,2,26.5,8.5,27,6,27,3,27,1,27.5,0,28,2,28.5,0.5,29,1,20.5,9]],
[12,[20.5,9]],[17,[31,10]],
[7,[66,11.5,66.5,12,66.5,11,67,11.5,67,12,63.5,7,64,6,64,7,64.5,5,65,6,65,7,65.5,5.5,66,6.5,66.5,5.5,67,6]],
[2,[-32,3,-32,4.5,-31.5,3.5,-31,5,-31,2.5,-30.5,4,-30.5,3,-30,1.5,-30,3,-30,5,-29.5,4,-29.5,2,-29,3,-29,1.8,-28,2.5,-23.5,2,-23.5,0.5,-23,3,-23,1.5,-22.5,2.5,-22.5,0.5,-22,1,-22,-0.2,-21.5,1.5,-36,0.5,-35.5,1,-35.5,0,-35,-0.5,-33.5,-3,-25,-3.8,-24.5,-6.2,-27,-7,-27.5,-7.5,-26.8,-8,-28.5,-8.3,-26,-10]],
[12,[-56.5,-7,-56,-6,-56,-8,-55.5,-5,-55,-7,-55,-8.5,-54.5,-6,-54.5,-4,-54,-7.5,-53.5,-5,-53.5,-8.5,-53,-6.5,-53,-9,-52.5,-7.5,-52,-8,-51.5,-9,-54,-9.2]],
[9,[43,-15,43.5,-13,44,-11,44,-16,45,-9,45,-13,45,-15,45.5,-17,46,-11,46,-14,46.5,-8,47,-10,47,-13,47,-16,47.5,-18,48,-8,48,-12,48,-15,49,-7,49,-10,49,-13,49,-17,50,-9,50,-12,50,-15,50,-17.5,51,-8,51,-11,51,-14,51,-16.5,52,-9,52,-13,52,-15.5,53,-10,53,-12,53,-15,54,-10,54,-13,55,-11,55,-14,56,-11.5,56,-12.5,46.4,-12.5,48.5,-9.6,50.4,-10.6,49.4,-14.4,51.5,-12.6,47.7,-14.4]],
[0,[-11,-16,-10,-13,-8,-14,-9,-18,-10,-21,-11,-22,-9,-24,-8,-27,-7,-25,-6,-30,-5,-28,-4,-29,-3,-29,-3,-28,-2.5,-29.5,-2,-27,-2,-33,-6,-21,-7,-19,-4,-14,-3,-25,-1,-31,-3,-30.5,-3,-27.5]],
[1,[-11,-18,-9,-14,-7,-16,-10,-23,-9,-20,-8,-22,-8,-30,-6,-26,-5,-31,-4,-26,-2,-31,1,-26,3,-27,-1,-13,-3,-11,-4,-12,1,-12,-1,-25,4,-26,3,-29]],
[3,[-10,-15,-9,-17,-8,-20,-6,-15,-7,-22,-5,-24,-3,-13,-1,-11,1,-16,-3,-18,-5,-20,-7,-27,-4,-22,-1,-29,1,-30,1,-24,2,-28,5,-25,-4,-10.5,-5,-13]],
[4,[-10,-19,-8,-17,-6,-18,-5,-15,-4,-17,-2,-15,0,-18,2,-21,-2,-23,0,-27,3,-15,-1,-21,-3,-21,-7,-24,1,-13]],
[5,[-9,-16,-7,-14,-5,-17,-4,-15,-3,-13,-2,-17,-1,-14,0,-15,1,-18,2,-14,3,-17,4,-19,5,-20,-1,-19,-3,-16,-2,-20,0,-21,2,-23,4,-23,1,-26,3,-24,-1,-23,-6,-20,-4,-19,-8,-19,-11,-24,-2,-11,0,-12.5,5,-16,5,-22,-3.5,-23,1,-20,3,-21,5,-30,6,-29,2.5,-32]],
[7,[6,-21,7,-25,7,-22,8,-24,9,-26,10,-21,10,-24,12,-23,7,-33,8,-30,9,-32,10,-28,11,-25,13,-27,14,-22,16,-23,18,-21,19,-25,21,-23,22,-26,9,-35,11,-33,12,-35,14,-37,6,-31,4,-32,7,-29,5,-24]],
[8,[10,-29,11,-31,12,-28,13,-30,13,-33,14,-26,14,-29,15,-31,15,-35,16,-28,16,-34,17,-30,17,-26,18,-33,18,-29,19,-32,19,-28,20,-35,20,-30,21,-34,21,-31,22,-33,23,-32,22,-30,15,-37,13,-25,16,-36,18,-36]],
[6,[-51,-31,-50.5,-29,-50,-32,-50,-30,-49.5,-33,-49,-28,-49,-31,-48.5,-34,-48,-27.5,-48,-30,-48,-32,-47.5,-29,-47,-33,-47,-35,-47,-31,-46,-29,-46,-34,-46,-31.5,-45.5,-35,-45,-28.5,-45,-33,-45,-30,-44,-31,-44,-32.5,-43.5,-30,-43,-31,-40,-37,-39.5,-37.5,-39,-37,-39.5,-36.5,-46.6,-30.2,-48.6,-30.8]],
[3,[-32,-21.5,-31.5,-22,-31,-21,-31,-15.5,-30.5,-15.8,-30.5,-22.5,-30,-21,-30,-19.5,-30,-23,-29.5,-20,-29.5,-22,-29,-23.5,-29,-21,-29.5,-24,-25.5,-20,-25,-19.5,-25,-20.3,-24.5,-20]],
[5,[-28.5,-25.5,-27.5,-26.5]],
[0,[-23,-38,-22,-39,-22,-41,-21.5,-38,-21.5,-40,-21,-42,-21,-39,-20.5,-37,-20.5,-40,-20,-38,-20,-41,-19.5,-36.5,-19.5,-39,-19.5,-42,-19,-40.5,-19,-37.5,-18.5,-41,-16,-38.5,-15.5,-38,-16,-36,-15,-37.5,-15,-39,-14,-37,-13.5,-36,-11.5,-32.5]],
[1,[2,-49,2,-51,2.5,-51,1.5,-50.5,2,-52,1.5,-52.5,-5.5,-55,-3.5,-54,-1,-56,-5.5,-58,-5,-57.5,-4.5,-59,-4.5,-58,-4,-57,-4,-59,-1,-58,-1,-57.5,-0.5,-58,3,-59,2,-60,1,-60,1,-62,-0.5,-61,-0.5,-63,0,-62,-2,-61,-2,-63,-3,-62.5,-3.5,-62,-3.5,-60.5,-5,-65,-5.5,-65,-4.5,-64,-4,-65,1,-65]],
[19,[20,-58,20.5,-56,21,-59,21.5,-55,22,-57,22,-60,22.5,-54,23,-58,23,-56,23.5,-60.5,24,-57,24,-54,24.5,-59,25,-56,25,-61,25.5,-58,26,-55.5,26,-60,26.5,-57,27,-59,27,-56.5,28,-58,29,-56,30,-55.5,30.5,-56.5,31,-55,31.5,-56,30,-58,30,-57.8,31,-58.5,23.5,-57.3,25.3,-59.4,22.7,-58.8]]
];
const scatterE = [
[15,[-19,54,-18.5,55,-18,53,-18,55.5,-17.5,52.5,-17,54,-17,56,-16.5,53,-16.5,55,-16,52,-16,57,-16,54,-15.5,59,-15.5,55.5,-15,53,-15,56,-15,58,-14.5,54,-14.5,59.5,-14.5,57,-14,58,-14,55,-13,59,-13,56,-12,57,-12.5,53,-12,53,-11.5,52.8,-11,55,-12,55]],
[14,[-1,44,-0.5,45,-0.5,43,0,46,0,44,0,43,0.5,47,0.5,45,1,44,1,43,1.5,46,1.5,45,2,44,2,43.5,2.5,46,2.5,45,3,44,3,48.5,3.5,46,4,45,4.5,43,5,44,5,45.5,5.5,43,6,48.5,6.5,46,6.5,49,5.5,47.5,7,44,7.5,43.5,8,43.5,9,44,10,44,10.8,46,11,47,13,43.5,13,46,13.5,47,15.5,49,16,47,15,48,10.5,42,14,44,19,45.5,20,45,20,46,18.5,43.5]],
[18,[10.5,44,11,43.5,6,45.5,13.5,48,14,46.5,15,47,15,45,15.5,44,15.5,46,16,43,16,45,16.5,47,16.5,44.5,17,45,17,43.5,17.5,46,15,42.8,19,42,19.5,41,20,43,21,42.5,18.5,41.5,24,44,24,45,24.5,43.5,24.5,44.5,25,44,25,45,25.5,44,23.5,44.5]],
[17,[-32,26,-32,28,-31.5,30,-31,27,-31,29,-30.5,26,-30.5,31,-30,28,-30,25.5,-29.5,30,-29.5,27,-29,29,-29,32,-29,26,-28.5,31,-28.5,28,-28,27,-28,30,-27.5,29,-27,31,-27,28,-26.5,29,-26,28,-33,30.5,-31.5,33.5,-37.5,28,-37.5,28.5,-37,27.5,-37,28.8,-36.5,28,-36.8,27.8]],
[10,[-17,19,-16.5,17,-16.5,20.5,-16,16,-16,18,-15.5,21,-15.5,19,-15,17,-15,15.5,-14.5,20,-14.5,22,-14,18,-14,16,-13.5,21,-13.5,19,-13,23,-13,17,-13,15,-12.5,21,-12.5,19,-12,16,-12,18,-12,22,-11.5,20,-11,23,-11,17,-10.5,19,-10.5,21,-10,16,-10,18,-9.5,22.5,-9,20,-9,17,-8.5,19,-8,19,-8.5,16.5]],
[10,[6,22,6.5,23.5,6.5,21,7,24,7,22,7.5,20.5,7.5,25,8,23,8,21,8.5,26,8.5,24,9,27,9,22,9.5,20.5,9.5,25,10,23,10,26,10.5,24,10.5,21.5,11,25,7.5,27,8.6,22.4,9.6,23.6]],
[11,[12,19,12.5,18,12.5,17,13.5,17.5,12,16.5,5.7,15.8]],
[13,[12,16.5,10.5,14]],[17,[9.5,13.8,9.5,13.2]],
[12,[24,11,24.5,12,25,10,25,11.5,25.5,9,26,12,26,10.5,26.5,9,27,11,27.5,9.5,28,11,28,12,27.5,15.5,29,10.5,29.5,13,29.5,11,31,10.5,30.5,14,31.5,14.5,32,14,33,14.5,33,13.5,33,15.5,32.5,14.8]],
[17,[37.5,21.9,38.5,20.5,38,18.5,38.2,18,38.8,16.5,39.5,16.5,38.5,17,39,16.2,38.3,20.2]],
[12,[37.5,20.5]],
[9,[-46,7,-45.5,8,-45.5,6,-45,9,-45,5,-44.5,7,-44,10,-44,8,-44,6,-43.5,4.7,-43.5,9,-43,11,-43,7,-42.5,9,-42.5,6,-42,8,-42,4.8,-42,11,-41.5,10,-41,7,-41,9,-41,5,-40.5,11,-40,6,-40,8,-40,4,-39.5,10,-39,7,-39,5.5,-39,11,-38.5,9,-38,8,-38,10,-37.5,8]],
[13,[-1.5,8,-1.2,9,-1,7,-0.5,10,-0.5,8,0,9,0,7,0.5,6,0.5,10.5,1,8,1,9.5,1.5,7,1.5,6.5,2,8,2,9,2.5,7,2.5,6.5,3,7.5,0.5,7.5]],
[16,[49,9,49,8,49.5,10,49.5,7.5,50,9,50,7.5,50.5,10,50.5,8,51,9,51,7.5,47.5,7,46.8,6,47.5,5.5,46,4,47,4,48,1.5,50,1.5,51,4,52,1.5,52,0.8,50.5,3.5,51,3,53,3,54,3.5,53,6.5,55,4,55.5,5.5,55.5,3.5,56,5,56,4,56.5,5,56.5,3.5,49,3]],
[19,[-60,-5,-59.5,-5,-59.5,-7,-59.5,-7.5,-58,-5.8,-58.2,-9,-58,-10,-57.5,-8,-57,-10,-57,-11,-57,-8,-56.5,-9,-56.5,-7,-56,-11,-56,-8.5,-55.5,-6.5,-55.5,-9.5,-55,-11,-55,-8,-55,-6,-54.5,-10,-54.5,-8,-54,-10,-54,-9,-53.5,-9]],
[4,[-30,-7.5,-29.5,-6.5,-29.5,-8.5,-29,-7,-29,-9,-29,-5.5,-28.5,-8,-28.5,-6.5,-28,-10,-28,-5.5,-28,-8,-27.5,-6.5,-27,-8,-27,-9.5,-26.5,-7,-26,-5,-26,-6.5,-25.5,-3.5,-25.5,-5,-25,-6,-25,-3.5,-24.5,-5,-24,-6.5,-24,-4,-23.5,-5.5,-23,-5.5,-23,-4]],
[3,[-12,-6.5,-11.5,-5.5,-11,-6.5,-11,-4.5,-10.5,-6,-10.5,-7.5,-10,-5,-10,-6.5,-9.5,-6,-9.5,-7.5,-9,-6.5,-8,-9.8,-7.7,-10.3,-7.9,-10.8,-9.3,-17,-9,-16.5,-8.8,-17.3,-14.5,-20.5,-15.5,-20.5,-14,-20,-13.5,-19.5,-13.5,-20.5,-14,-21,-13,-19,-13,-18.5]],
[9,[-12,-7.5,-9.6,-17.5]],
[0,[19,-3,19.5,-2,19.5,-3.5,20,-2.5,20,-4,20.5,-2,20.5,-3,21,-2.5,21,-3.5,21.5,-2.8,20.5,-4.2]],
[5,[21.5,-4.2]],
[0,[8,-5,9,-5.5,10,-6,1,-9,3,-9,3.5,-8,3.5,-11,5,-9,6,-9,6.5,-10,7,-8.5,7,-12,8,-9,8,-11,9,-8,9,-10,9.5,-13,11,-8,11,-11,12,-9,12,-11,13,-8,13,-12,14,-6.5,14.5,-7.5,15,-10,14,-9,15.5,-6,13,-11.5,6,-12,3,-10]],
[1,[0.5,-13,1.5,-14,2,-12,3,-13,3,-16,4,-11,5,-14,7,-13,8,-14,11,-14,11,-17,12,-13,12,-16,13,-15,14,-17,15,-14,15.5,-12,16,-12,14,-20,13,-19,15,-18.5,3,-19,2,-20.5,14,-22,10,-7,6,-15,10,-11,13,-10]],
[3,[2,-16,1,-16,2,-18,4,-21,5,-18,6,-11,9,-12,10,-14,11,-21,13,-21,12,-20,14,-18,15,-16,15.5,-15,8,-22.5,6,-22,3,-20,12,-13.5]],
[4,[5,-12,6,-14,7,-15,8,-16,9,-15,10,-16,11,-19,12,-18,13,-17,3,-17,4,-19,14,-15]],
[5,[4,-15,5,-16,5,-17,6,-13,6,-18,6,-20,7,-14,7,-17,7,-19,7,-21,8,-15,8,-18,8,-20,9,-16.5,9,-18,9,-20,9,-22.5,10,-17,10,-19,10,-21,11,-18,11,-20,11,-22,12,-17,12,-19,12,-21,13,-18,13,-20,4,-20,5,-20,6,-12,3,-21,5,-22,7,-22.5,8,-23,10,-23,16,-10]],
[6,[35,-18,35,-20,35.5,-16.5,35.5,-19,36,-17,36,-21,36.5,-18,36.5,-20,37,-16,37,-17.5,37,-22,37.5,-19,37.5,-21,38,-16.5,38,-18,38,-20,38.5,-22,38.5,-17,39,-19,39,-21,39.5,-18.5,40,-20.5,41,-20,38,-24,38.5,-23,38.5,-26,39,-24.5,39,-26,39.5,-23.5,40,-25,40,-24,40.5,-25,41,-24,30,-24,31,-24,31.5,-23,32,-24,31.5,-24.5,37.5,-25]],
[2,[-30,-24,-29.5,-25.5,-29.5,-23,-29,-24.5,-29,-26,-29,-23,-28.5,-25,-28.5,-23.5,-28,-24,-28,-25.5,-27.5,-23,-27.5,-24.5,-22.5,-25,-22,-26,-22,-24.5,-21.5,-25.5,-21.5,-24,-21,-25,-21,-26,-20.5,-26,-20.5,-24.5,-20,-25,-20,-26,-20,-24,-24.5,-27,-24,-27.5,-25,-30.2,-25.2,-29.8]],
[7,[-8,-36,-7.5,-35.5,-7.5,-36.5,-7,-37,-7,-36,-6.5,-37.5,-6.5,-36.5,-4.5,-34.5,-4.5,-35,-5,-37.5,6.5,-29.5,7.3,-34.5,2.2,-35,4,-36,4.5,-36,-1,-37,-0.5,-38,1,-38,0,-39,8,-37,9,-38,-1.5,-39.5,-1,-41,-1,-43,0,-42,1,-44,2,-42,3,-45,8,-46,5,-44,6,-46,9,-44,10.5,-44]],
[8,[1,-40,2,-39,2,-41,3,-38,3,-40,3,-42,4,-39,4,-41,4,-43,5,-38,5,-40,5,-42,6,-39,6,-41,6,-43,7,-40,7,-42,7,-44,8,-39,8,-41,8,-43,9,-41,9,-45,10,-42,10,-44,11,-43,11,-45,10,-40,5,-46.5,7,-46,11,-40.5,11.5,-40.5,11,-41]],
[1,[-16.5,-55,-16,-56,-16,-58,-15.5,-59.5,-15.5,-54,-15,-57,-15,-59,-14.5,-53.5,-14.5,-56,-14,-60.5,-14,-58,-13.5,-55,-13,-54,-13,-57,-13,-56,-12.5,-58,-12.5,-57,-12.5,-60,-12,-55.5,-12,-60,-11.5,-53.5,-11,-58,-10.5,-55.5,-10.5,-59,-10,-60.5,-8.5,-52.5,-8,-52.5,-7,-52,-7,-53,-6.8,-51.5,-6,-51,-5.5,-50.5]]
];
const scatterF = [
[15,[3.5,42.2,4,42.8,4,41.8,4.5,43,4.5,42,4.5,41,5,43.5,5,42.5,5,41.5,5.5,44,5.5,42.5,5.5,41,6,43,6,42,6,41,6.2,40.5,6.7,42.5,6.8,41.8]],
[7,[-11.5,23.7,-11,24,-10.8,23,-10.5,24,-10,25,-10,23.5,-10,22,-9.5,24,-9.5,26,-9.5,21,-9.5,22.5,-9,25,-9,23,-9,20.5,-8.5,26,-8.5,24,-8.5,22,-8,24.5,-8.5,20.8,-15,23,-15.2,22.8,-14.8,23.2,-14.5,22.8,-14.7,22.5]],
[8,[-9.5,26.5,-9,27,-8.5,27,-8,26,-8,27.5,-7.5,28,-7.5,26,-7.5,24,-7,25,-7,27.5,-7,23,-6.5,24.5,-6,26.5,-8,23,-7.5,28,-8.5,22.5]],
[18,[12,26,12,25,13,26.5,13,24.5,13.5,26,13.5,23,14,27.5,14,26,14,24,14.5,27.5,14.5,24.5,15,27.8,15,24,14.5,22,14,21,12,24.2,11.5,25.5,14.7,23,14.5,21.5]],
[14,[11.5,24.8,12,23,12.8,23.5,13,25,13,21.5,13.5,24.5,14,22,14,25,14.7,21,13.5,25.5]],
[14,[13.5,19,14,18.5,14,20,14.5,19,14.5,17.5,15,20,15,18.5,15,18,15.5,19.5,15.5,20.5,16,19,16,20,16.5,19.5,16.5,18.5,17,20,17,19,15,17.8]],
[1,[-33,19,-32.5,20,-32.5,18.5,-32,19.5,-32,18.5,-31.5,20,-31.5,19,-31.5,18,-31,20.5,-31,19,-31,18.5,-30.5,20,-30.5,19,-30,19.5,-31,17.5,-29.5,19,-29,19]],
[2,[34.7,19,35,19.5,35.3,19.2,34.5,18.8,34.5,15.5,35,16,35,17,35.5,15.5,35.5,16.5,35.5,17.5,36,16,36,17,36,15.5,36.5,16.5,36,18,37.5,18,37.8,18.5,37,16,38,17,37.9,16.5]],
[1,[-11,2.7,-10.8,3,-11,2.5,-10,2,-8,3,-8,1.8,-7,1.5,-8,12,-7.8,12.3,-7.7,11.8,-6.5,10,-6.8,8,-7,9,-6,10,-6,8.5,-5.5,9.5,-5,8.8,-8,5.5,-7.5,5,-7,4.5,-6.5,4,-5.5,2.8,-5,3.5]],
[0,[-9.3,2.5,-8,5,-7,6.5,-7,3.5,-6,5,-5,7.5,-5,5,-5,3,-4.5,4,-4,8.5,-4,6,-4,3.5,-3,5,-3,7,-6.5,10.5,-4.5,6.5,-6,6.5,-2,5,-4,9,-3,6]],
[3,[-6,8,-6,4.5,-5,6,-5,2.5,-3,3,-2.5,4,-2,7,-3,9,-2.5,10,-5.5,3,-4,2.5,-1.2,6]],
[4,[-5,8,-4.5,5.5,-4,7,-3.5,4,-3,8,-2.5,6,-2,8.5,-1,7,-1,4.5,-2,3.5,-6,7]],
[5,[-6.5,7,-5.5,7,-3.5,7.5,-3,4,-2.5,8,-2,6,-1.5,8,-1.5,5,-1,6,-0.5,7,-0.5,4.5,-2,4,-3.5,3,-5,1.8,-2,9,-0.8,4,0,7]],
[8,[-8,8.5,-6.5,11]],
[9,[-36,2,-35.5,1,-35,2.5,-35,0.5,-34.5,3,-34.5,1.5,-34,0,-34,2,-33.5,-0.5,-33.5,1,-33,3,-33,2,-33,0,-33,-1,-32.5,1,-32.5,2.5,-32,-0.5,-32,3,-32,1,-31.5,0,-31.5,2,-31,1.5,-31,3,-30.5,2,-30.5,0.8,-30,1.5]],
[10,[43,0,43,1,43.5,-1,44,2,44,0,44,-1.5,44.5,1,44.5,-0.5,45,2,45,0,45,-1.5,45.5,1,45.5,-0.5,45.5,2.5,46,1,46,-1.5,46,0,46.5,0,46.5,-2,47,-1,47.5,-0.5,45.5,2]],
[3,[-4,-3.5,-3.8,-3,-3.5,-3.5,-3.5,-2.8,-3,-3,-3,-2.5,-3.5,-3.2,-2,-0.2]],
[17,[16,-5,16,-4,16.5,-3,16.5,-4.5,17,-3.5,17,-2.5,17,-5,17.5,-4,17.5,-3,18,-2,18,-4.5,18,-3,18.5,-4,18.5,-2.5,19,-3.5,19,-5.5,19.5,-6,19,-6.5,19.5,-3,20,-5,19.5,-1,20,-3.5,16.5,-0.8,16.5,-8,16.5,-8.2]],
[12,[16.6,-8.7]],
[6,[-45.5,-16.5,-45,-16,-45,-17,-44.5,-15.5,-44.5,-17,-44.5,-18,-44,-16.5,-44,-17.5,-44,-14.5,-43.5,-16,-43.5,-17,-43,-16.5,-44.7,-16.3]],
[16,[-24,-17,-24,-18.5,-23.5,-19,-23,-16,-23,-19.5,-22.5,-14.5,-22.5,-16,-22.5,-17.5,-22,-15.5,-22,-17,-21.5,-17,-21.5,-18.5,-21,-16.5,-21,-18,-21,-19,-20.5,-17.5,-20.5,-15,-20,-17,-20,-16,-19.5,-19.5,-19.5,-16,-18.5,-15.5,-18.5,-16.5,-18,-16,-18,-17,-17.5,-16.5]],
[11,[-2.5,-19,-2.3,-20,-2,-18,-2,-21,-1.5,-19,-1.5,-20.5,-1.2,-21.5,-1,-18.5,-1,-20,-0.5,-17.8,-0.5,-19.5,-0.5,-21.5,0,-18.5,0,-20,0.5,-17.5,0.5,-19,0.5,-21,1,-18.5,1,-20,0.8,-22,1.5,-19.5,1.7,-21.5,1.5,-22.5,1.8,-23]],
[4,[29.5,-20.7,30,-20.3,30,-19,30.5,-18,30.5,-19.5,31,-17.5,31,-19,31,-20.5,31.5,-16.5,31.5,-18,31.5,-19.5,32,-17,32,-18.5,32,-20,32.5,-16.8,32.5,-18.8,31,-20]],
[11,[12.5,-26.8]],[17,[13,-27]],
[12,[13.5,-27.5,13.5,-28.5,13.5,-29,14,-28,14,-29,14.5,-27.8,14.5,-28.5,14.5,-29,15,-28,15,-29,15.5,-27.8,15.5,-28.5,15.5,-29.2,15.8,-28,15.8,-29]],
[19,[-13,-35.5,-12.5,-35,-12.5,-36,-12,-36.5,-12,-34.8,-11.5,-35.5,-11.5,-37,-11.5,-38,-11,-35,-11,-36.2,-11,-37.5,-11,-38.5,-10.5,-35,-10.5,-37,-10.5,-38.5,-10,-35.5,-10,-36.5,-9.5,-35,-9.5,-37,-10,-38]],
[13,[5.5,-42.5,5.3,-44,5.5,-45,6,-43.5,6,-45,6,-45.7,6.5,-42,6.5,-43.5,6.5,-44.5,7,-42.5,7,-44,7.5,-43,7.5,-44,8,-43.5,8,-41.8,7.3,-42.3]]
];
const scatterPanels = [scatterA,scatterB,scatterC,scatterD,scatterE,scatterF];

// Layout: [axLeft, axRight, axTop, axBottom, barLeft, barRight, captionX, captionBaseline]
const layout = [
 [103,866,43.5,754,916,951,516,908],
 [1245,2011,41.8,752.5,2059,2093,1661,908],
 [2401,3166,45.3,756,3214,3249,2806,908],
 [99.6,863.7,1028,1738.4,912,947,515,1894],
 [1102,1867,1026,1736.6,1915.5,1950.6,1519,1894],
 [2103.8,2868.5,1032,1742,2917,2952,2522,1894]
];
const svg = d3.select("#c");
const FONT = "'DejaVu Sans'";
const color = d3.scaleOrdinal(colorbarTicks, jetLevels);

layout.forEach((L,p)=>{
  const [l,r,t,b,bl,br,cx,cy] = L;
  const x = d3.scaleLinear(domainsX[p],[l,r]);
  const y = d3.scaleLinear(domainsY[p],[b,t]);
  const g = svg.append("g");
  const pts = scatterPanels[p].flatMap(([c,a])=>d3.range(0,a.length,2).map(i=>({c,x:a[i],y:a[i+1]})));
  g.append("g").selectAll("circle").data(pts).join("circle")
    .attr("cx",d=>x(d.x)).attr("cy",d=>y(d.y)).attr("r",3.6).attr("fill",d=>color(d.c));
  const fmt = d=>d<0?"\u2212"+(-d):""+d;
  const ax = g.append("g").attr("transform",`translate(0,${b})`)
    .call(d3.axisBottom(x).tickValues(ticksX[p]).tickFormat(fmt).tickSize(8).tickPadding(7));
  const ay = g.append("g").attr("transform",`translate(${l},0)`)
    .call(d3.axisLeft(y).tickValues(ticksY[p]).tickFormat(fmt).tickSize(8).tickPadding(7));
  [ax,ay].forEach(a=>{a.select(".domain").remove();a.selectAll("line").attr("stroke","#111").attr("stroke-width",1.8);
    a.selectAll("text").attr("font-family",FONT).attr("font-size",25).attr("fill","#1a1a1a");});
  g.append("rect").attr("x",l).attr("y",t).attr("width",r-l).attr("height",b-t).attr("fill","none").attr("stroke","#000").attr("stroke-width",2.2);
  // colorbar
  const yBand = d3.scaleLinear([0,20],[b,t]);
  const yTick = d3.scaleLinear([0,19],[b,t]);
  g.append("g").selectAll("rect").data(colorbarTicks).join("rect")
    .attr("x",bl).attr("width",br-bl).attr("y",d=>yBand(d+1)).attr("height",d=>yBand(d)-yBand(d+1)+0.5).attr("fill",d=>color(d));
  const cb = g.append("g").attr("transform",`translate(${br},0)`)
    .call(d3.axisRight(yTick).tickValues(colorbarTicks).tickFormat(d3.format("d")).tickSize(8).tickPadding(6));
  cb.select(".domain").remove();
  cb.selectAll("line").attr("stroke","#111").attr("stroke-width",1.8);
  cb.selectAll("text").attr("font-family",FONT).attr("font-size",25).attr("fill","#1a1a1a");
  g.append("rect").attr("x",bl).attr("y",t).attr("width",br-bl).attr("height",b-t).attr("fill","none").attr("stroke","#000").attr("stroke-width",2.2);
  // caption
  const cap = g.append("text").attr("x",cx).attr("y",cy).attr("text-anchor","middle")
    .attr("font-family","'Liberation Serif'").attr("font-size",82).attr("fill","#000");
  cap.append("tspan").text("(");
  cap.append("tspan").attr("font-weight","bold").text(panelNames[p]);
  cap.append("tspan").text(")");
});
</script></body></html>
